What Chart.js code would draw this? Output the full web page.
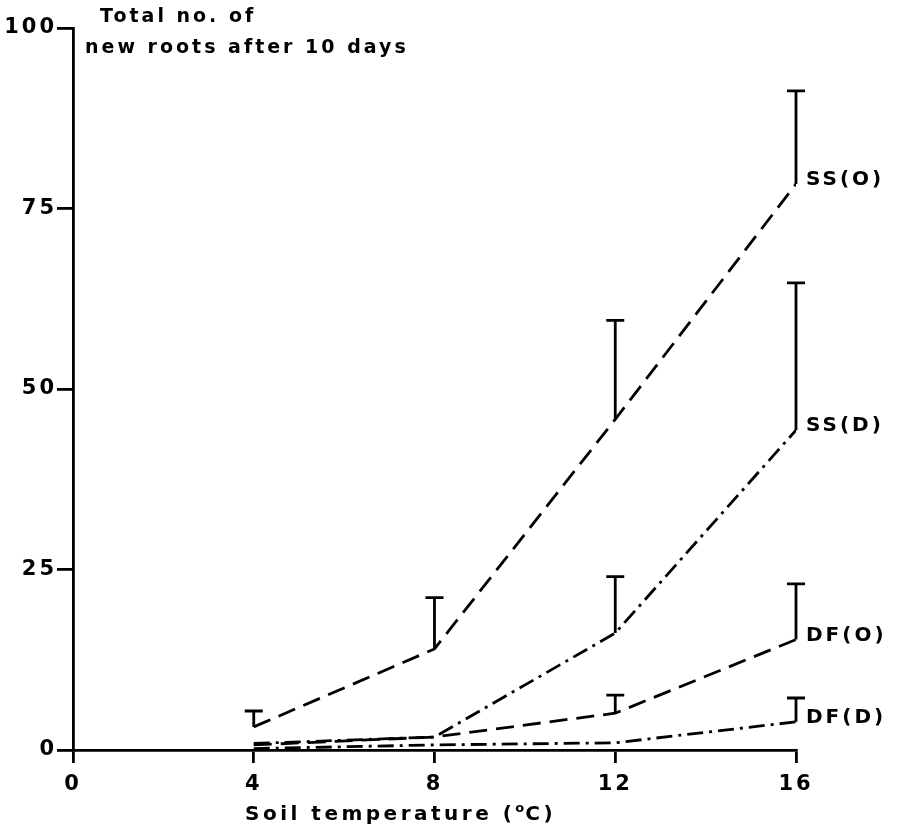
<!DOCTYPE html>
<html>
<head>
<meta charset="utf-8">
<script src="https://cdn.jsdelivr.net/npm/chart.js@4/dist/chart.umd.min.js"></script>
<style>
  html, body { margin: 0; padding: 0; background: #fff; }
  #wrap { width: 901px; height: 833px; position: relative; }
</style>
</head>
<body>
<div id="wrap"><canvas id="c" width="901" height="833"></canvas></div>
<script>
// ---- data ----
const temperatures = [4, 8, 12, 16];
const xTicks = [0, 4, 8, 12, 16];
const yTicks = [0, 25, 50, 75, 100];
const seriesNames = ['SS(O)', 'SS(D)', 'DF(O)', 'DF(D)'];
const ssO = [3.2, 14.0, 45.8, 78.4];
const ssD = [0.9, 1.8, 16.2, 44.3];
const dfO = [0.7, 1.8, 5.1, 15.3];
const dfD = [0.2, 0.7, 1.0, 3.9];
const ssOErrTop = [5.4, 21.1, 59.5, 91.3];
const ssDErrTop = [null, null, 24.0, 64.7];
const dfOErrTop = [null, null, 7.6, 23.0];
const dfDErrTop = [null, null, null, 7.2];
const yTitleLines = ['Total no. of', 'new roots after 10 days'];
// x title parts: main text, superscript "o", unit
const xTitleParts = ['Soil temperature (', 'o', 'C)'];

const seriesValues = [ssO, ssD, dfO, dfD];
const seriesErr = [ssOErrTop, ssDErrTop, dfOErrTop, dfDErrTop];
const DASHED = [18, 9];
const DASHDOT = [16, 6, 3, 6];
const dashes = [DASHED, DASHDOT, DASHED, DASHDOT];

const FONT = "'DejaVu Sans', 'Liberation Sans', sans-serif";
const LS = '3px';

const spacingPlugin = {
  id: 'spacing',
  beforeLayout(chart) { chart.ctx.letterSpacing = LS; },
  beforeDraw(chart) { chart.ctx.letterSpacing = LS; }
};

const errPlugin = {
  id: 'errbars',
  afterDatasetsDraw(chart) {
    const ctx = chart.ctx;
    const xs = chart.scales.x, ys = chart.scales.y;
    ctx.save();
    ctx.strokeStyle = '#000';
    ctx.lineWidth = 2.8;
    ctx.setLineDash([]);
    seriesErr.forEach((errs, si) => {
      errs.forEach((top, j) => {
        if (top == null) return;
        const px = xs.getPixelForValue(temperatures[j]);
        const py0 = ys.getPixelForValue(seriesValues[si][j]);
        const py1 = ys.getPixelForValue(top);
        ctx.beginPath();
        ctx.moveTo(px, py0);
        ctx.lineTo(px, py1);
        ctx.moveTo(px - 9, py1);
        ctx.lineTo(px + 9, py1);
        ctx.stroke();
      });
    });
    // series labels
    ctx.fillStyle = '#000';
    ctx.letterSpacing = '3px';
    ctx.font = 'bold 20px ' + FONT;
    ctx.textBaseline = 'middle';
    ctx.textAlign = 'left';
    const last = temperatures.length - 1;
    seriesNames.forEach((name, si) => {
      const px = xs.getPixelForValue(temperatures[last]);
      const py = ys.getPixelForValue(seriesValues[si][last]);
      ctx.fillText(name, px + 10, py - 4);
    });
    // y title (top-left, horizontal)
    const left = chart.chartArea.left;
    ctx.font = 'bold 19px ' + FONT;
    ctx.fillText(yTitleLines[0], left + 27, 17);
    ctx.fillText(yTitleLines[1], left + 12, 48);
    // x title with superscript o
    ctx.textBaseline = 'alphabetic';
    const base = chart.chartArea.bottom + 70;
    let tx = left + 172;
    ctx.font = 'bold 20px ' + FONT;
    ctx.letterSpacing = '3.5px';
    ctx.fillText(xTitleParts[0], tx, base);
    tx += ctx.measureText(xTitleParts[0]).width;
    ctx.font = 'bold 13px ' + FONT;
    ctx.letterSpacing = '1px';
    ctx.fillText(xTitleParts[1], tx, base - 8);
    tx += ctx.measureText(xTitleParts[1]).width;
    ctx.font = 'bold 20px ' + FONT;
    ctx.letterSpacing = '3.5px';
    ctx.fillText(xTitleParts[2], tx, base);
    ctx.restore();
  }
};

const datasets = seriesNames.map((name, si) => ({
  label: name,
  data: temperatures.map((t, j) => ({ x: t, y: seriesValues[si][j] })),
  borderColor: '#000',
  borderWidth: 2.8,
  borderDash: dashes[si],
  pointRadius: 0,
  tension: 0,
  fill: false
}));

new Chart(document.getElementById('c'), {
  type: 'line',
  data: { datasets },
  options: {
    responsive: false,
    animation: false,
    devicePixelRatio: 1,
    layout: { padding: { top: 28, right: 105, left: 0, bottom: 0 } },
    plugins: { legend: { display: false }, tooltip: { enabled: false } },
    scales: {
      x: {
        type: 'linear',
        min: 0, max: 16,
        afterBuildTicks(s) { s.ticks = xTicks.map(v => ({ value: v })); },
        afterFit(s) { s.height = 83; },
        ticks: { color: '#000', font: { family: FONT, size: 21, weight: 'bold' }, padding: 9 },
        grid: { drawOnChartArea: false, drawTicks: true, tickLength: 13, color: '#000', lineWidth: 2.8 },
        border: { display: true, color: '#000', width: 2.8 }
      },
      y: {
        type: 'linear',
        min: 0, max: 100,
        afterBuildTicks(s) { s.ticks = yTicks.map(v => ({ value: v })); },
        afterFit(s) { s.width = 73; },
        ticks: { color: '#000', font: { family: FONT, size: 21, weight: 'bold' }, padding: 0 },
        grid: { drawOnChartArea: false, drawTicks: true, tickLength: 16, color: '#000', lineWidth: 2.8 },
        border: { display: true, color: '#000', width: 2.8 }
      }
    }
  },
  plugins: [spacingPlugin, errPlugin]
});
</script>
</body>
</html>
